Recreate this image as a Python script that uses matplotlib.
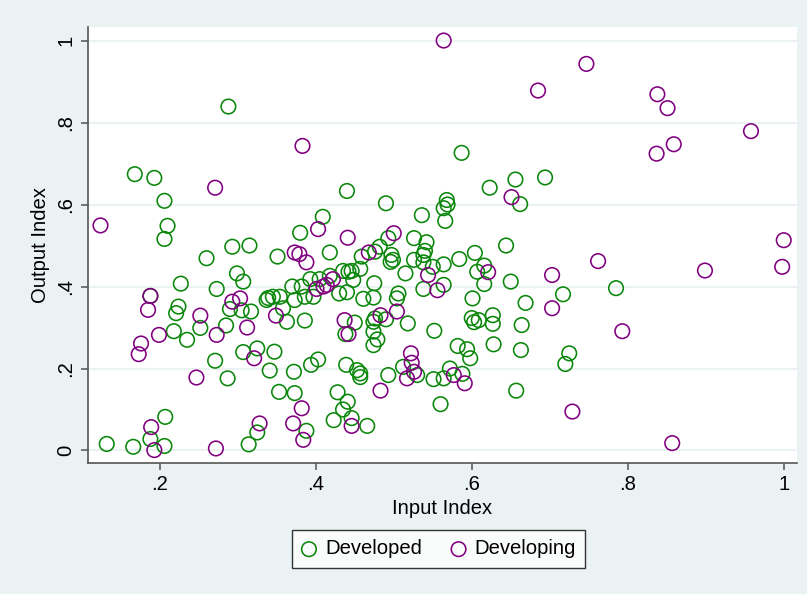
import matplotlib
matplotlib.use("Agg")
import matplotlib.pyplot as plt

# Values
dev_x = [.288, .168, .193, .206, .210, .206, .293, .315, .260, .299, .307, .227, .273, .188, .290, .305,
         .317, .224, .221, .339, .218, .235, .252, .285, .271, .307, .325, .341, .287, .207, .188, .206,
         .132, .166, .314, .325,
         .587, .694, .656, .623, .662, .568, .569, .564, .566, .644, .604, .584, .564, .616, .607, .616,
         .650, .564, .717, .601, .669, .600, .603, .609, .627, .627, .664, .552, .582, .594, .598, .628,
         .663, .725, .720, .572, .588, .564, .551, .657, .560, .785,
         .440, .490, .536, .409, .380, .493, .526, .542, .540, .538, .351, .418, .482, .476, .459, .497,
         .499, .496, .526, .538, .550, .515, .457, .435, .442, .446, .448, .418, .393, .405, .370, .382,
         .386, .397, .373, .475, .430, .440, .461, .474, .506, .504, .538, .337, .345, .354, .358,
         .363, .386, .450, .438, .474, .476, .490, .518, .474, .479, .474, .347, .403, .394, .439, .453,
         .457, .457, .493, .512, .530, .372, .353, .373, .428, .441, .435, .388, .423, .446, .466]
dev_y = [.839, .674, .665, .609, .548, .516, .497, .500, .469, .432, .412, .407, .394, .377, .345, .342,
         .339, .351, .335, .372, .291, .270, .299, .305, .219, .240, .249, .195, .176, .082, .028, .011,
         .016, .009, .015, .044,
         .726, .666, .661, .641, .601, .611, .600, .591, .560, .500, .482, .467, .454, .451, .436, .406,
         .412, .404, .381, .371, .360, .323, .313, .318, .330, .309, .306, .292, .255, .247, .225, .259,
         .245, .237, .211, .200, .187, .176, .174, .146, .113, .396,
         .633, .603, .574, .570, .531, .518, .518, .508, .487, .477, .473, .483, .497, .485, .473, .477,
         .465, .460, .465, .459, .448, .432, .443, .438, .436, .438, .416, .426, .418, .418, .400, .400,
         .375, .375, .367, .408, .383, .386, .370, .373, .383, .371, .394, .367, .375, .375, .347,
         .314, .317, .312, .284, .314, .322, .320, .310, .290, .271, .257, .241, .222, .209, .209, .196,
         .188, .179, .184, .204, .184, .192, .143, .140, .142, .119, .100, .048, .074, .079, .060]

dvg_x = [.124, .271, .188, .185, .293, .303, .252, .199, .273, .312, .176, .173, .321, .247, .189, .193,
         .272, .328, .383, .564, .747, .685, .838, .851, .958, .859, .837, .651, .762, .621, .703, .544,
         .556, .703, .899, 1.0, .998, .577, .591, .729, .793, .857, .403, .441, .500, .373, .379, .388,
         .468, .422, .401, .410, .414, .349, .437, .442, .483, .504, .522, .523, .526, .517, .483, .382,
         .371, .384, .446]
dvg_y = [.549, .641, .377, .343, .363, .371, .329, .282, .282, .300, .261, .235, .225, .178, .057, .001,
         .005, .066, .743, 1.0, .943, .878, .869, .835, .779, .747, .724, .618, .462, .435, .428, .428,
         .391, .347, .439, .513, .448, .184, .164, .095, .291, .018, .540, .519, .530, .483, .479, .459,
         .483, .418, .394, .400, .404, .329, .318, .284, .330, .339, .237, .214, .192, .176, .146, .103,
         .066, .026, .060]

x_ticks = [.2, .4, .6, .8, 1]
x_labels = ['.2', '.4', '.6', '.8', '1']
y_ticks = [0, .2, .4, .6, .8, 1]
y_labels = ['0', '.2', '.4', '.6', '.8', '1']

plt.rcParams['font.family'] = ['Liberation Sans', 'DejaVu Sans']
bg = '#eaf2f3'
fs = 14.6

fig = plt.figure(figsize=(8.07, 5.94), dpi=100, facecolor=bg)
ax = fig.add_axes([88 / 807, 1 - 463 / 594, (797 - 88) / 807, (463 - 27) / 594])
ax.set_facecolor('white')

ax.scatter(dev_x, dev_y, s=110, facecolors='none', edgecolors='#0a870a', linewidths=1.15,
           label='Developed', zorder=3)
ax.scatter(dvg_x, dvg_y, s=110, facecolors='none', edgecolors='#800080', linewidths=1.15,
           label='Developing', zorder=4)

ax.set_xlim(0.108, 1.017)
ax.set_ylim(-0.0305, 1.033)
ax.set_xticks(x_ticks)
ax.set_xticklabels(x_labels)
ax.set_yticks(y_ticks)
ax.set_yticklabels(y_labels, rotation=90, va='center')
ax.grid(axis='y', color=bg, linewidth=1.5, zorder=0)
ax.set_axisbelow(True)

for side in ['top', 'right']:
    ax.spines[side].set_visible(False)
for side in ['left', 'bottom']:
    ax.spines[side].set_color('#555555')
    ax.spines[side].set_linewidth(1.2)
ax.tick_params(axis='both', direction='out', length=5, width=1.1, color='#555555',
               labelsize=fs, pad=4)

ax.set_xlabel('Input Index', fontsize=fs, labelpad=3)
ax.set_ylabel('Output Index', fontsize=fs, labelpad=5)

fig.legend(loc='center', bbox_to_anchor=(438.5 / 807, 1 - 549 / 594), ncol=2,
           frameon=True, fancybox=False, edgecolor='black', facecolor='white',
           fontsize=fs, handlelength=0.8, handletextpad=0.4, columnspacing=1.4,
           borderpad=0.45, scatterpoints=1)

fig.savefig('out.png', dpi=100, facecolor=bg)
